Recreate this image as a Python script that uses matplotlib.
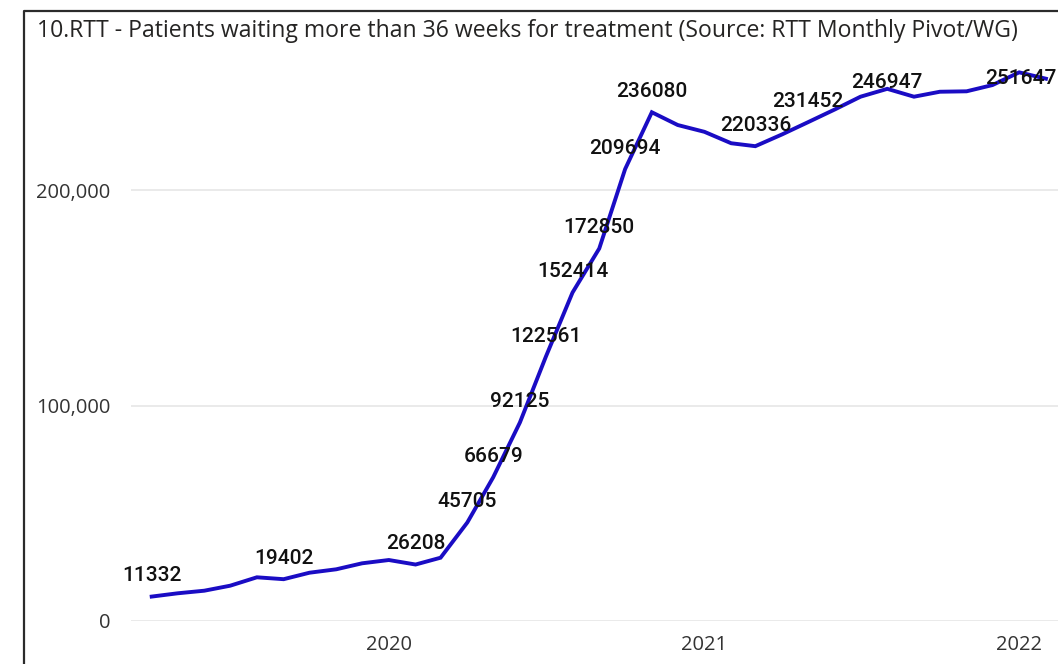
import datetime as dt
import matplotlib
matplotlib.use("Agg")
import matplotlib.pyplot as plt
import matplotlib.dates as mdates
from matplotlib.lines import Line2D
from matplotlib.ticker import FuncFormatter

#
# data (monthly, Apr 2019 - Feb 2022)
#
months = [dt.date(2019, 4, 1)]
while len(months) < 35:
    y, m = months[-1].year, months[-1].month + 1
    if m > 12:
        y, m = y + 1, 1
    months.append(dt.date(y, m, 1))

waiting = [11332, 12850, 14060, 16380, 20280, 19402, 22410, 23990, 26775, 28300,
           26208, 29370, 45705, 66679, 92125, 122561, 152414, 172850, 209694, 236080,
           230160, 227000, 221700, 220336, 225800, 231452, 237350, 243300, 246947, 243300,
           245600, 245800, 248700, 254600, 251647]

# which points get a data label
labelled = [0, 5, 10, 12, 13, 14, 15, 16, 17, 18, 19, 23, 25, 28, 34]

title = "10.RTT - Patients waiting more than 36 weeks for treatment (Source: RTT Monthly Pivot/WG)"

#
# plot
#
fig = plt.figure(figsize=(10.58, 6.64), dpi=100)
ax = fig.add_axes([131 / 1058, 43 / 664, 927 / 1058, (621 - 56.4) / 664])

ax.plot(months, waiting, color='#1A0CC4', lw=2.8, solid_joinstyle='miter', zorder=3)

ax.set_ylim(0, 262000)
ax.set_xlim(dt.date(2019, 3, 8), dt.date(2022, 2, 15))
ax.set_yticks([0, 100000, 200000])
ax.yaxis.set_major_formatter(FuncFormatter(lambda v, p: f"{int(v):,}"))
ax.xaxis.set_major_locator(mdates.YearLocator())
ax.xaxis.set_major_formatter(mdates.DateFormatter('%Y'))

ax.grid(axis='y', color='#E6E6E6', lw=1.2, zorder=0)
for s in ax.spines.values():
    s.set_visible(False)
ax.tick_params(axis='both', length=0, labelsize=14.5, labelcolor='#333333')
ax.tick_params(axis='y', pad=15)
ax.tick_params(axis='x', pad=10)
for t in ax.get_xticklabels() + ax.get_yticklabels():
    t.set_family('Open Sans')

lab_font = dict(family='Roboto', fontweight='medium', fontsize=15, color='#111111')
for i in labelled:
    txt = str(waiting[i])
    if i == len(waiting) - 1:
        # last label is pulled inside the plot area
        ax.annotate(txt, xy=(1.0, waiting[i]), xycoords=('axes fraction', 'data'),
                    xytext=(-1, 0), textcoords='offset points',
                    ha='right', va='center', zorder=4, **lab_font)
    elif waiting[i] > 240000:
        ax.annotate(txt, xy=(months[i], waiting[i]), xytext=(0, 0.5),
                    textcoords='offset points', ha='center', va='baseline',
                    zorder=4, **lab_font)
    else:
        ax.annotate(txt, xy=(months[i], waiting[i]), xytext=(0, 11),
                    textcoords='offset points', ha='center', va='baseline',
                    zorder=4, **lab_font)

fig.text(37 / 1058, 1 - 37.3 / 664, title, family='Open Sans', fontsize=16.6,
         color='#252423', ha='left', va='baseline')

# visual border (cut off at right and bottom)
fig.add_artist(Line2D([24 / 1058, 24 / 1058, 1.01], [-0.01, 1 - 10.5 / 664, 1 - 10.5 / 664],
                      transform=fig.transFigure, color='#2B2B2B', lw=1.6))

fig.savefig('out.png', dpi=100)
plt.close()
